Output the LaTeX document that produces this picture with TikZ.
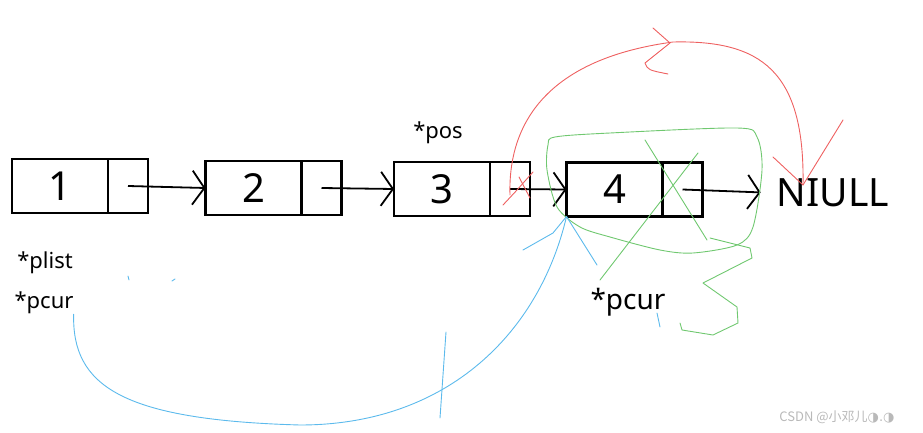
\documentclass[tikz,border=0pt]{standalone}
\usepackage{fontspec}
\setmainfont{Noto Sans}
\newfontfamily\cjk{Noto Sans CJK SC}
\newfontfamily\symfont{DejaVu Sans}
\usetikzlibrary{positioning,arrows.meta}
\definecolor{penred}{RGB}{238,96,96}
\definecolor{pengreen}{RGB}{112,200,112}
\definecolor{penblue}{RGB}{92,186,236}
\tikzset{
  datacell/.style={draw, line width=2.4pt, minimum width=96pt, minimum height=54pt,
    inner sep=0pt, outer sep=0pt, font=\fontsize{40}{40}\selectfont},
  ptrcell/.style={draw, line width=2.4pt, minimum width=40pt, minimum height=54pt,
    inner sep=0pt, outer sep=0pt},
  link/.style={line width=1.8pt, -{Straight Barb[length=12pt,width=34pt,line width=1.8pt]}},
  label/.style={inner sep=0pt, font=\fontsize{22}{22}\selectfont},
  pen/.style={line width=0.9pt, line cap=round, line join=round}
}
\begin{document}
\begin{tikzpicture}[x=1pt,y=-1pt]
\useasboundingbox (0,0) rectangle (923,433);
% list nodes
\node[datacell] (d1) at (60,186) {1};
\node[ptrcell, right=0pt of d1] (p1) {};
\node[datacell] (d2) at (253.5,188) {2};
\node[ptrcell, right=0pt of d2] (p2) {};
\node[datacell] (d3) at (442,189) {3};
\node[ptrcell, right=0pt of d3] (p3) {};
\node[datacell] (d4) at (614.5,189.5) {4};
\node[ptrcell, right=0pt of d4] (p4) {};
\node[inner sep=0pt, font=\fontsize{39}{39}\selectfont] (nul) at (833,193) {NIULL};
% pointer names
\node[label] (pos) at (438,133) {*pos};
\node[label] (plist) at (45,263) {*plist};
\node[label] (pcurA) at (44,303) {*pcur};
\node[label, font=\fontsize{28}{28}\selectfont] (pcurB) at (628,302) {*pcur};
% next links
\draw[link] (p1.center) -- (d2.west);
\draw[link] (p2.center) -- (d3.west);
\draw[link] (p3.center) -- (d4.west);
\draw[link, shorten >=16pt] (p4.center) -- (nul.west);
% new link 3 -> NULL
\coordinate (hit) at (803,185);
\draw[penred, pen] ([yshift=-6pt]p3.center) .. controls (508,130) and (540,60) .. (673,42)
  .. controls (760,40) and (805,70) .. (hit);
\draw[penred, pen] (773,157) -- (hit) -- (843,120);
\draw[penred, pen] (653,28) -- (670,43) -- (645,63) .. controls (648,70) .. (668,74);
\draw[penred, pen] (519,177) -- (530,198);
\draw[penred, pen] (533,172) -- (517,190) -- (503,205);
% node 4 removed
\draw[pengreen, pen] plot[smooth cycle] coordinates {(555,137) (610,133) (737,128) (757,137)
  (762,170) (753,227) (737,245) (693,253) (660,250) (610,237) (580,227) (557,207)
  (547,170) (548,145)};
\draw[pengreen, pen] (710,238) -- (750,248) -- (752,258) -- (703,283) -- (737,307)
  -- (738,323) -- (713,335) -- (682,330) -- (680,323);
\draw[pengreen, pen] (645,140) -- (707,240);
\draw[pengreen, pen] (698,153) -- (600,280);
% pcur moves to 4
\draw[penblue, pen] (pcurA.south east) .. controls (72,385) and (120,420) .. (300,425)
  .. controls (450,425) and (540,330) .. (d4.south west);
\draw[penblue, pen] (d4.south west) -- (553,233) -- (523,250);
\draw[penblue, pen] (d4.south west) -- (597,265);
\draw[penblue, pen] (446,332) -- (440,418);
\draw[penblue, pen] (657,313) -- (660,327);
\draw[penblue, pen] (128,276) -- (129,280);
\draw[penblue, pen] (172,281) -- (175,279);
% watermark
\node[gray!55, inner sep=0pt, font=\fontsize{13}{13}\selectfont] (wm) at (837,417)
  {\cjk CSDN @小邓儿{\symfont ◑.◑}};
\end{tikzpicture}
\end{document}
